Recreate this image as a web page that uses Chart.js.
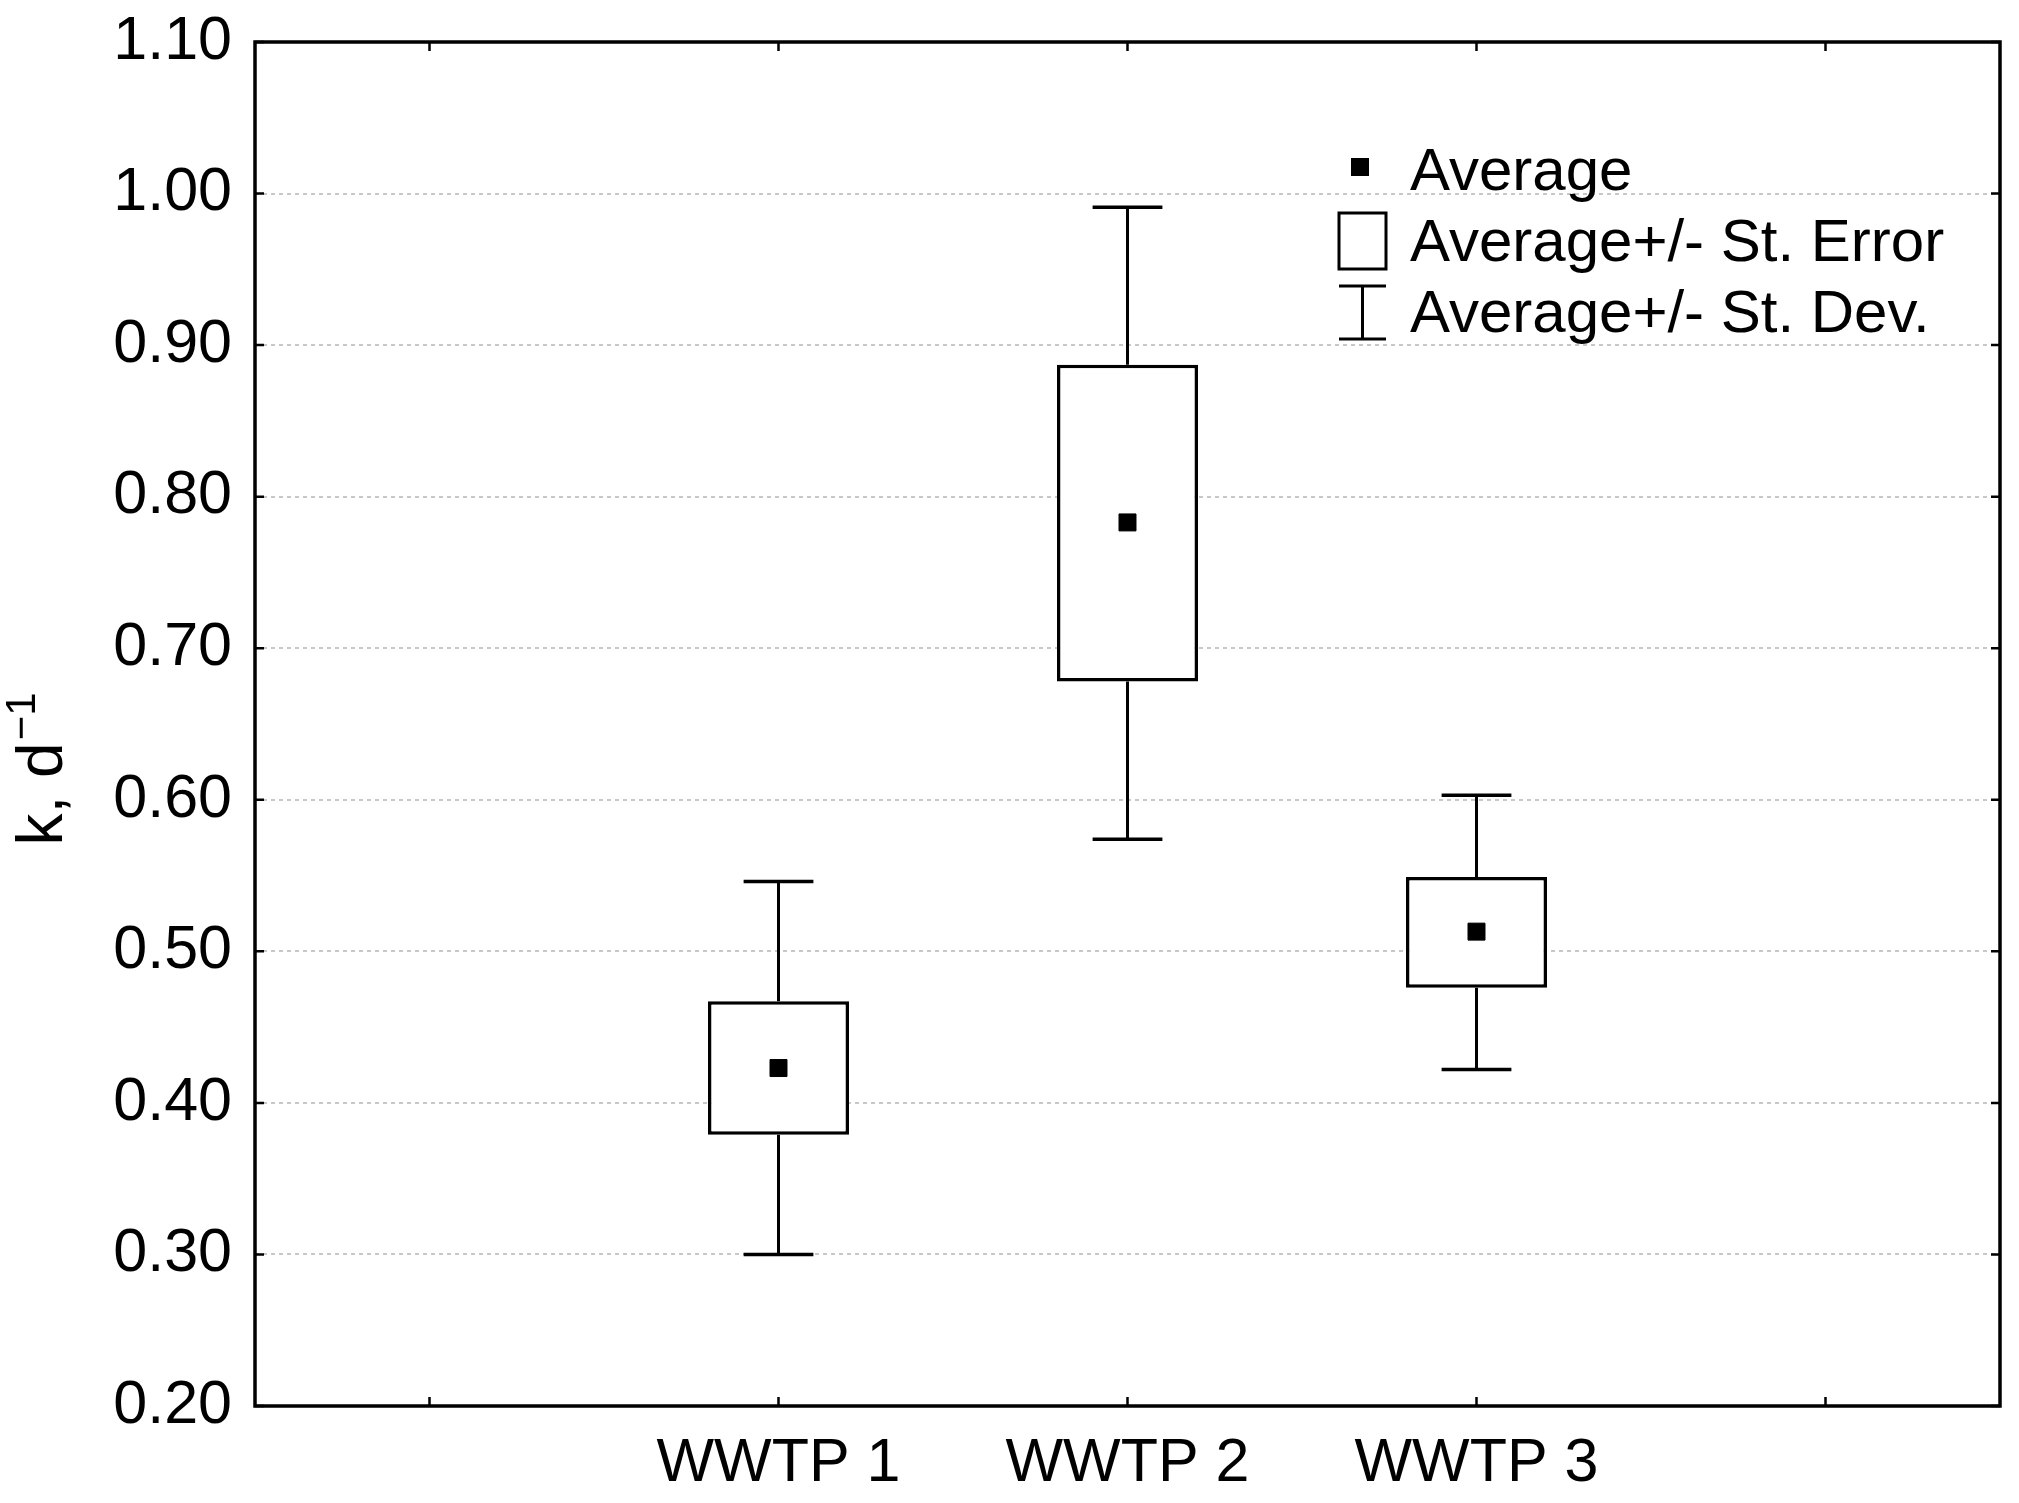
<!DOCTYPE html>
<html>

<head>
  <meta charset="utf-8">
  <title>k, d-1 by WWTP</title>
  <script src="https://cdn.jsdelivr.net/npm/chart.js@4.4.1/dist/chart.umd.min.js"></script>
  <style>
    html, body { margin: 0; padding: 0; background: #fff; }
    #wrap { position: relative; width: 2019px; height: 1503px; }
  </style>
</head>

<body>
  <div id="wrap"><canvas id="chart"></canvas></div>

<script>
  // data
  const categories = ['WWTP 1', 'WWTP 2', 'WWTP 3'];
  const averages = [0.423, 0.783, 0.513];
  const seLow = [0.379, 0.678, 0.476];
  const seHigh = [0.467, 0.887, 0.549];
  const sdLow = [0.300, 0.574, 0.422];
  const sdHigh = [0.546, 0.991, 0.603];
  const yMin = 0.20, yMax = 1.10, yStep = 0.10;
  const legendLabels = ['Average', 'Average+/- St. Error', 'Average+/- St. Dev.'];

  const FONT = '"Liberation Sans", Arial, sans-serif';

  // one empty slot on each side of the three plants
  const labels = [''].concat(categories, ['']);
  const pad = arr => [null].concat(arr, [null]);
  const boxes = pad(categories.map((c, i) => [seLow[i], seHigh[i]]));

  const boxPlugin = {
    id: 'boxExtras',
    beforeDatasetsDraw(chart) {
      // whiskers: average +/- st. dev.
      const ctx = chart.ctx;
      const x = chart.scales.x, y = chart.scales.y;
      const capHalf = (x.getPixelForValue(1) - x.getPixelForValue(0)) * 0.1;
      ctx.save();
      ctx.strokeStyle = '#000';
      ctx.lineWidth = 3;
      categories.forEach((c, i) => {
        const px = x.getPixelForValue(i + 1);
        const top = y.getPixelForValue(sdHigh[i]);
        const bot = y.getPixelForValue(sdLow[i]);
        ctx.beginPath();
        ctx.moveTo(px, top); ctx.lineTo(px, y.getPixelForValue(seHigh[i]));
        ctx.moveTo(px, y.getPixelForValue(seLow[i])); ctx.lineTo(px, bot);
        ctx.stroke();
        ctx.lineWidth = 3.5;
        ctx.beginPath();
        ctx.moveTo(px - capHalf, top); ctx.lineTo(px + capHalf, top);
        ctx.moveTo(px - capHalf, bot); ctx.lineTo(px + capHalf, bot);
        ctx.stroke();
        ctx.lineWidth = 3;
      });
      ctx.restore();
    },
    afterDraw(chart) {
      const ctx = chart.ctx;
      const a = chart.chartArea;
      const x = chart.scales.x, y = chart.scales.y;
      ctx.save();

      // frame
      ctx.strokeStyle = '#000';
      ctx.lineWidth = 3.5;
      ctx.strokeRect(a.left, a.top, a.right - a.left, a.bottom - a.top);

      // inward tick marks
      ctx.lineWidth = 2.5;
      ctx.beginPath();
      y.ticks.forEach(t => {
        const py = y.getPixelForValue(t.value);
        ctx.moveTo(a.left, py); ctx.lineTo(a.left + 9, py);
        ctx.moveTo(a.right, py); ctx.lineTo(a.right - 9, py);
      });
      labels.forEach((l, i) => {
        const px = x.getPixelForValue(i);
        ctx.moveTo(px, a.bottom); ctx.lineTo(px, a.bottom - 9);
        ctx.moveTo(px, a.top); ctx.lineTo(px, a.top + 9);
      });
      ctx.stroke();

      // y axis title with superscript
      ctx.fillStyle = '#000';
      ctx.textBaseline = 'alphabetic';
      ctx.textAlign = 'left';
      const main = 'k, d', sup = '\u22121';
      ctx.font = '64px ' + FONT;
      const wMain = ctx.measureText(main).width;
      ctx.font = '42px ' + FONT;
      const wSup = ctx.measureText(sup).width;
      const total = wMain + wSup + 2;
      ctx.translate(62, 769);
      ctx.rotate(-Math.PI / 2);
      ctx.font = '64px ' + FONT;
      ctx.fillText(main, -total / 2, 0);
      ctx.font = '42px ' + FONT;
      ctx.fillText(sup, -total / 2 + wMain + 2, -27);
      ctx.setTransform(1, 0, 0, 1, 0, 0);

      // legend inside the plot, top right
      const lx = a.left + 1105, ly = a.top;
      ctx.font = '60px ' + FONT;
      ctx.fillText(legendLabels[0], lx + 50, ly + 148);
      ctx.fillText(legendLabels[1], lx + 50, ly + 219);
      ctx.fillText(legendLabels[2], lx + 50, ly + 290);
      ctx.fillRect(lx - 9, ly + 116, 18, 18);
      ctx.lineWidth = 3;
      ctx.strokeRect(lx - 21, ly + 171, 47, 56);
      ctx.beginPath();
      ctx.moveTo(lx - 21, ly + 244); ctx.lineTo(lx + 26, ly + 244);
      ctx.moveTo(lx + 2.5, ly + 244); ctx.lineTo(lx + 2.5, ly + 297);
      ctx.moveTo(lx - 21, ly + 297); ctx.lineTo(lx + 26, ly + 297);
      ctx.stroke();

      ctx.restore();
    }
  };

  const chart = new Chart(document.getElementById('chart'), {
    data: {
      labels: labels,
      datasets: [{
        type: 'line',
        label: legendLabels[0],
        data: pad(averages),
        showLine: false,
        pointStyle: 'rect',
        pointRadius: 12,
        pointBorderWidth: 1,
        pointBackgroundColor: '#000',
        pointBorderColor: '#000',
        order: 0,
      }, {
        type: 'bar',
        label: legendLabels[1],
        data: boxes,
        backgroundColor: '#fff',
        borderColor: '#000',
        borderWidth: 3.5,
        borderSkipped: false,
        barPercentage: 0.404,
        categoryPercentage: 1.0,
        order: 1,
      }]
    },
    options: {
      responsive: true,
      maintainAspectRatio: false,
      devicePixelRatio: 1,
      animation: false,
      events: [],
      layout: { padding: { top: 42, right: 19, left: 0, bottom: 0 } },
      plugins: { legend: { display: false }, tooltip: { enabled: false } },
      scales: {
        x: {
          type: 'category',
          offset: true,
          grid: { display: false, drawTicks: false },
          border: { display: false },
          ticks: { color: '#000', font: { family: FONT, size: 61 }, padding: 22, maxRotation: 0, autoSkip: false },
          afterFit(scale) { scale.height = 97; },
        },
        y: {
          type: 'linear',
          min: yMin,
          max: yMax,
          grid: {
            color: ctx => (ctx.tick && (Math.abs(ctx.tick.value - yMin) < 1e-6 || Math.abs(ctx.tick.value - yMax) < 1e-6)) ? 'rgba(0,0,0,0)' : '#c8c8c8',
            lineWidth: 2,
            drawTicks: false,
          },
          border: { display: false, dash: [4, 4] },
          ticks: {
            stepSize: yStep,
            color: '#000',
            font: { family: FONT, size: 61 },
            padding: 23,
            callback: v => v.toFixed(2),
          },
          afterFit(scale) {
            scale.width = 255;
            scale.paddingTop = 0;
            scale.paddingBottom = 0;
          },
        }
      }
    },
    plugins: [boxPlugin]
  });
</script>
</body>

</html>
